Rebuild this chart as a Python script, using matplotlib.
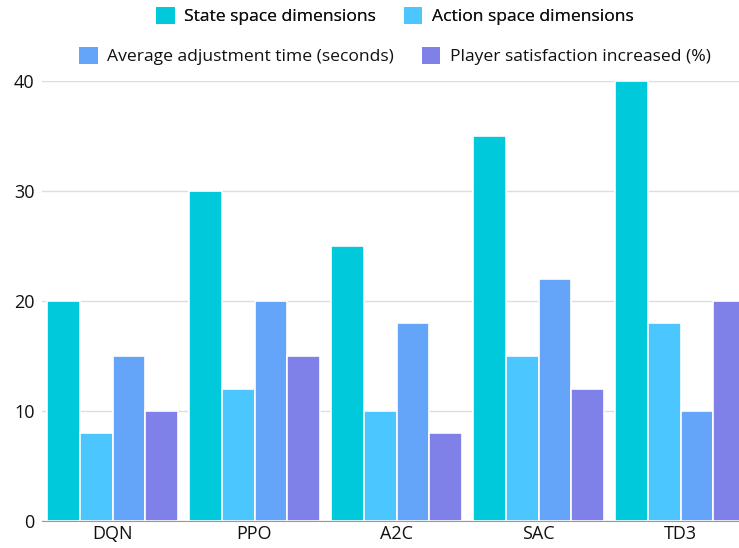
import numpy as np
import matplotlib.pyplot as plt
from matplotlib.patches import Patch

# data
algorithms = ['DQN', 'PPO', 'A2C', 'SAC', 'TD3']
series_names = ['State space dimensions', 'Action space dimensions',
                'Average adjustment time (seconds)', 'Player satisfaction increased (%)']
state_dims = [20, 30, 25, 35, 40]
action_dims = [8, 12, 10, 15, 18]
adjust_time = [15, 20, 18, 22, 10]
satisfaction = [10, 15, 8, 12, 20]

colors = ['#00C9DB', '#4BC6FF', '#64A5FA', '#7F81E8']
values = [state_dims, action_dims, adjust_time, satisfaction]

plt.rcParams['font.family'] = ['Open Sans', 'DejaVu Sans']

fig = plt.figure(figsize=(7.39, 5.48), dpi=100)
W, H = 739, 548
ax = fig.add_axes([41.5 / W, 27 / H, 710 / W, 440 / H])

x = np.arange(len(algorithms))
step = 0.2306
for i, (vals, col) in enumerate(zip(values, colors)):
    ax.bar(x + (i - 1.5) * step, vals, width=step, color=col,
           edgecolor='white', linewidth=1.2, zorder=3)

ax.set_xlim(-0.5, 4.5)
ax.set_ylim(0, 40)
ax.set_yticks([0, 10, 20, 30, 40])
ax.set_xticks(x)
ax.set_xticklabels(algorithms)
ax.tick_params(axis='both', length=0, labelsize=13, colors='#111111')
ax.tick_params(axis='y', pad=5)
ax.tick_params(axis='x', pad=3)
ax.grid(axis='y', color='#dddddd', linewidth=1, zorder=0)
for s in ['top', 'right', 'left']:
    ax.spines[s].set_visible(False)
ax.spines['bottom'].set_color('#999999')
ax.spines['bottom'].set_zorder(4)

handles = [Patch(facecolor=c, edgecolor='none') for c in colors]
cx = 395 / W
kw = dict(loc='center', ncol=2, frameon=False, fontsize=12.6,
          handlelength=1.05, handleheight=1.15, handletextpad=0.55,
          columnspacing=1.6, labelcolor='#111111')
leg1 = fig.legend(handles[:2], series_names[:2],
                  bbox_to_anchor=(cx, 1 - 16 / H), **kw)
leg2 = fig.legend(handles[2:], series_names[2:],
                  bbox_to_anchor=(cx, 1 - 56 / H), **kw)
fig.add_artist(leg1)

fig.savefig('out.png', dpi=100)
